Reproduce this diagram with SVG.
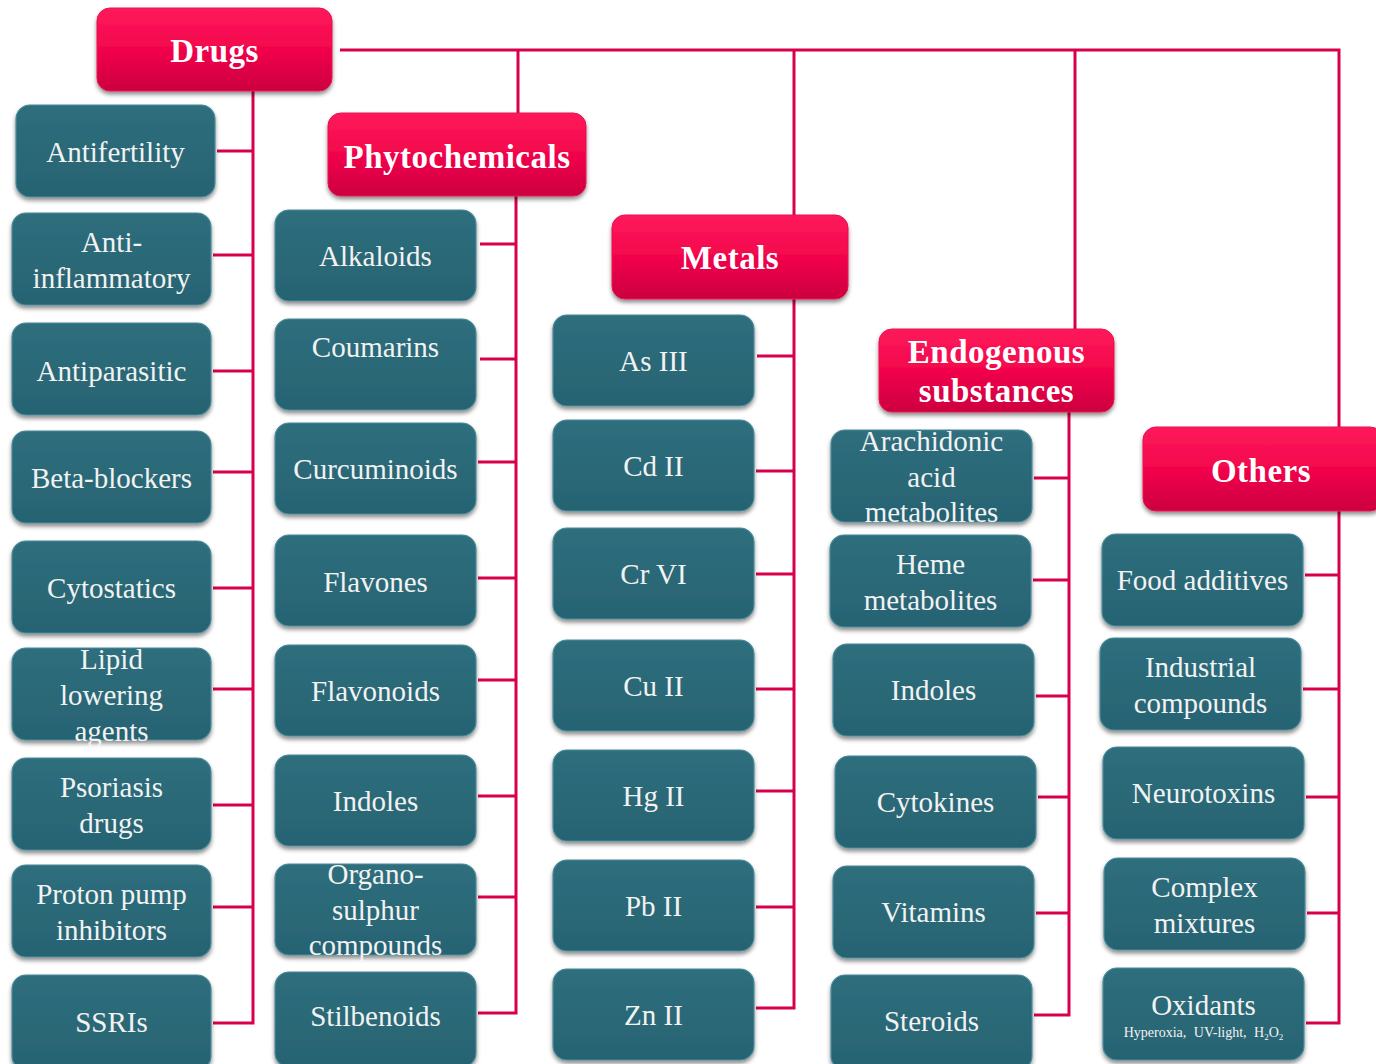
<svg xmlns="http://www.w3.org/2000/svg" width="1376" height="1064" viewBox="0 0 1376 1064">
<defs>
<linearGradient id="gRed" x1="0" y1="0" x2="0" y2="1">
<stop offset="0" stop-color="#FF1A5C"/>
<stop offset="0.5" stop-color="#F2054C"/>
<stop offset="1" stop-color="#CC0040"/>
</linearGradient>
<linearGradient id="gTeal" x1="0" y1="0" x2="0" y2="1">
<stop offset="0" stop-color="#2E6E7D"/>
<stop offset="1" stop-color="#276372"/>
</linearGradient>
<filter id="sh" x="-10%" y="-10%" width="120%" height="130%">
<feDropShadow dx="0" dy="3" stdDeviation="2" flood-color="#000" flood-opacity="0.45"/>
</filter>
<style>
.hd rect{fill:url(#gRed);stroke:#E8104F;stroke-width:1;filter:url(#sh)}
.nd rect{fill:url(#gTeal);stroke:#4B8B99;stroke-width:1.2;filter:url(#sh)}
.hd text{font-family:"Liberation Serif","Times New Roman",serif;font-weight:bold;font-size:33px;fill:#FFFFFF;text-anchor:middle;letter-spacing:0.5px}
.nd text{font-family:"Liberation Serif","Times New Roman",serif;font-size:29px;fill:#F2F2F2;text-anchor:middle}
.nd text.sm{font-size:14px;word-spacing:4px}
#connectors path{fill:none;stroke:#D8004C;stroke-width:3}
</style>
</defs>
<rect width="1376" height="1064" fill="#FFFFFF"/>
<g id="connectors">
<path d="M340 50 H1339 V1023 H1306 M1339 575 H1305 M1339 689 H1303 M1339 797 H1306 M1339 913 H1307"/>
<path d="M518 50 V114 M794 50 V216 M1075 50 V330"/>
<path d="M253 91 V1023 H213 M253 151 H217 M253 255 H213 M253 371 H213 M253 472 H213 M253 588 H213 M253 689 H213 M253 805 H213 M253 907 H213"/>
<path d="M516 196 V1013 H478 M516 244 H480 M516 359 H480 M516 462 H478 M516 578 H478 M516 680 H478 M516 796 H478 M516 897 H478"/>
<path d="M794 299 V1008 H756 M794 356 H757 M794 471 H756 M794 574 H756 M794 689 H756 M794 791 H756 M794 907 H756"/>
<path d="M1069 412 V1015 H1034 M1069 478 H1034 M1069 580 H1033 M1069 696 H1036 M1069 797 H1038 M1069 913 H1036"/>
</g>
<g id="drugs" class="hd"><rect x="97" y="8" width="235" height="83" rx="13"/><text x="214.5" y="62">Drugs</text></g>
<g id="phytochemicals" class="hd"><rect x="328" y="113" width="258" height="83" rx="13"/><text x="457" y="168">Phytochemicals</text></g>
<g id="metals" class="hd"><rect x="612" y="215" width="236" height="84" rx="13"/><text x="730" y="269">Metals</text></g>
<g id="endogenous" class="hd"><rect x="879" y="329" width="235" height="83" rx="13"/><text x="996.5" y="363">Endogenous</text><text x="996.5" y="402">substances</text></g>
<g id="others" class="hd"><rect x="1143" y="427" width="240" height="84" rx="13"/><text x="1261" y="482">Others</text></g>

<g id="antifertility" class="nd"><rect x="16" y="105" width="199" height="92" rx="14"/><text x="115.5" y="162">Antifertility</text></g>
<g id="antiinflammatory" class="nd"><rect x="12" y="213" width="199" height="92" rx="14"/><text x="111.5" y="252">Anti-</text><text x="111.5" y="288">inflammatory</text></g>
<g id="antiparasitic" class="nd"><rect x="12" y="323" width="199" height="92" rx="14"/><text x="111.5" y="381">Antiparasitic</text></g>
<g id="betablockers" class="nd"><rect x="12" y="431" width="199" height="92" rx="14"/><text x="111.5" y="488">Beta-blockers</text></g>
<g id="cytostatics" class="nd"><rect x="12" y="541" width="199" height="92" rx="14"/><text x="111.5" y="598">Cytostatics</text></g>
<g id="lipid" class="nd"><rect x="12" y="648" width="199" height="92" rx="14"/><text x="111.5" y="669">Lipid</text><text x="111.5" y="705">lowering</text><text x="111.5" y="741">agents</text></g>
<g id="psoriasis" class="nd"><rect x="12" y="758" width="199" height="92" rx="14"/><text x="111.5" y="797">Psoriasis</text><text x="111.5" y="833">drugs</text></g>
<g id="ppi" class="nd"><rect x="12" y="865" width="199" height="92" rx="14"/><text x="111.5" y="904">Proton pump</text><text x="111.5" y="940">inhibitors</text></g>
<g id="ssris" class="nd"><rect x="12" y="975" width="199" height="95" rx="14"/><text x="111.5" y="1032">SSRIs</text></g>

<g id="alkaloids" class="nd"><rect x="275" y="210" width="201" height="91" rx="14"/><text x="375.5" y="266">Alkaloids</text></g>
<g id="coumarins" class="nd"><rect x="275" y="319" width="201" height="91" rx="14"/><text x="375.5" y="357">Coumarins</text></g>
<g id="curcuminoids" class="nd"><rect x="275" y="423" width="201" height="91" rx="14"/><text x="375.5" y="479">Curcuminoids</text></g>
<g id="flavones" class="nd"><rect x="275" y="535" width="201" height="91" rx="14"/><text x="375.5" y="592">Flavones</text></g>
<g id="flavonoids" class="nd"><rect x="275" y="645" width="201" height="91" rx="14"/><text x="375.5" y="701">Flavonoids</text></g>
<g id="indoles1" class="nd"><rect x="275" y="755" width="201" height="91" rx="14"/><text x="375.5" y="811">Indoles</text></g>
<g id="organosulphur" class="nd"><rect x="275" y="864" width="201" height="91" rx="14"/><text x="375.5" y="884">Organo-</text><text x="375.5" y="920">sulphur</text><text x="375.5" y="955">compounds</text></g>
<g id="stilbenoids" class="nd"><rect x="275" y="972" width="201" height="95" rx="14"/><text x="375.5" y="1026">Stilbenoids</text></g>

<g id="as3" class="nd"><rect x="553" y="315" width="201" height="91" rx="14"/><text x="653.5" y="371">As III</text></g>
<g id="cd2" class="nd"><rect x="553" y="420" width="201" height="91" rx="14"/><text x="653.5" y="476">Cd II</text></g>
<g id="cr6" class="nd"><rect x="553" y="528" width="201" height="91" rx="14"/><text x="653.5" y="584">Cr VI</text></g>
<g id="cu2" class="nd"><rect x="553" y="640" width="201" height="91" rx="14"/><text x="653.5" y="696">Cu II</text></g>
<g id="hg2" class="nd"><rect x="553" y="750" width="201" height="91" rx="14"/><text x="653.5" y="806">Hg II</text></g>
<g id="pb2" class="nd"><rect x="553" y="860" width="201" height="91" rx="14"/><text x="653.5" y="916">Pb II</text></g>
<g id="zn2" class="nd"><rect x="553" y="969" width="201" height="91" rx="14"/><text x="653.5" y="1025">Zn II</text></g>

<g id="arachidonic" class="nd"><rect x="831" y="430" width="201" height="92" rx="14"/><text x="931.5" y="451">Arachidonic</text><text x="931.5" y="487">acid</text><text x="931.5" y="522">metabolites</text></g>
<g id="heme" class="nd"><rect x="830" y="535" width="201" height="92" rx="14"/><text x="930.5" y="574">Heme</text><text x="930.5" y="610">metabolites</text></g>
<g id="indoles2" class="nd"><rect x="833" y="644" width="201" height="92" rx="14"/><text x="933.5" y="700">Indoles</text></g>
<g id="cytokines" class="nd"><rect x="835" y="756" width="201" height="92" rx="14"/><text x="935.5" y="812">Cytokines</text></g>
<g id="vitamins" class="nd"><rect x="833" y="866" width="201" height="92" rx="14"/><text x="933.5" y="922">Vitamins</text></g>
<g id="steroids" class="nd"><rect x="831" y="975" width="201" height="95" rx="14"/><text x="931.5" y="1031">Steroids</text></g>

<g id="foodadditives" class="nd"><rect x="1102" y="534" width="201" height="92" rx="14"/><text x="1202.5" y="590">Food additives</text></g>
<g id="industrial" class="nd"><rect x="1100" y="638" width="201" height="92" rx="14"/><text x="1200.5" y="677">Industrial</text><text x="1200.5" y="713">compounds</text></g>
<g id="neurotoxins" class="nd"><rect x="1103" y="747" width="201" height="92" rx="14"/><text x="1203.5" y="803">Neurotoxins</text></g>
<g id="complex" class="nd"><rect x="1104" y="858" width="201" height="92" rx="14"/><text x="1204.5" y="897">Complex</text><text x="1204.5" y="933">mixtures</text></g>
<g id="oxidants" class="nd"><rect x="1103" y="968" width="201" height="92" rx="14"/><text x="1203.5" y="1015">Oxidants</text><text class="sm" x="1203.5" y="1037">Hyperoxia, UV-light, H<tspan font-size="9" dy="3">2</tspan><tspan dy="-3">O</tspan><tspan font-size="9" dy="3">2</tspan></text></g>
</svg>
